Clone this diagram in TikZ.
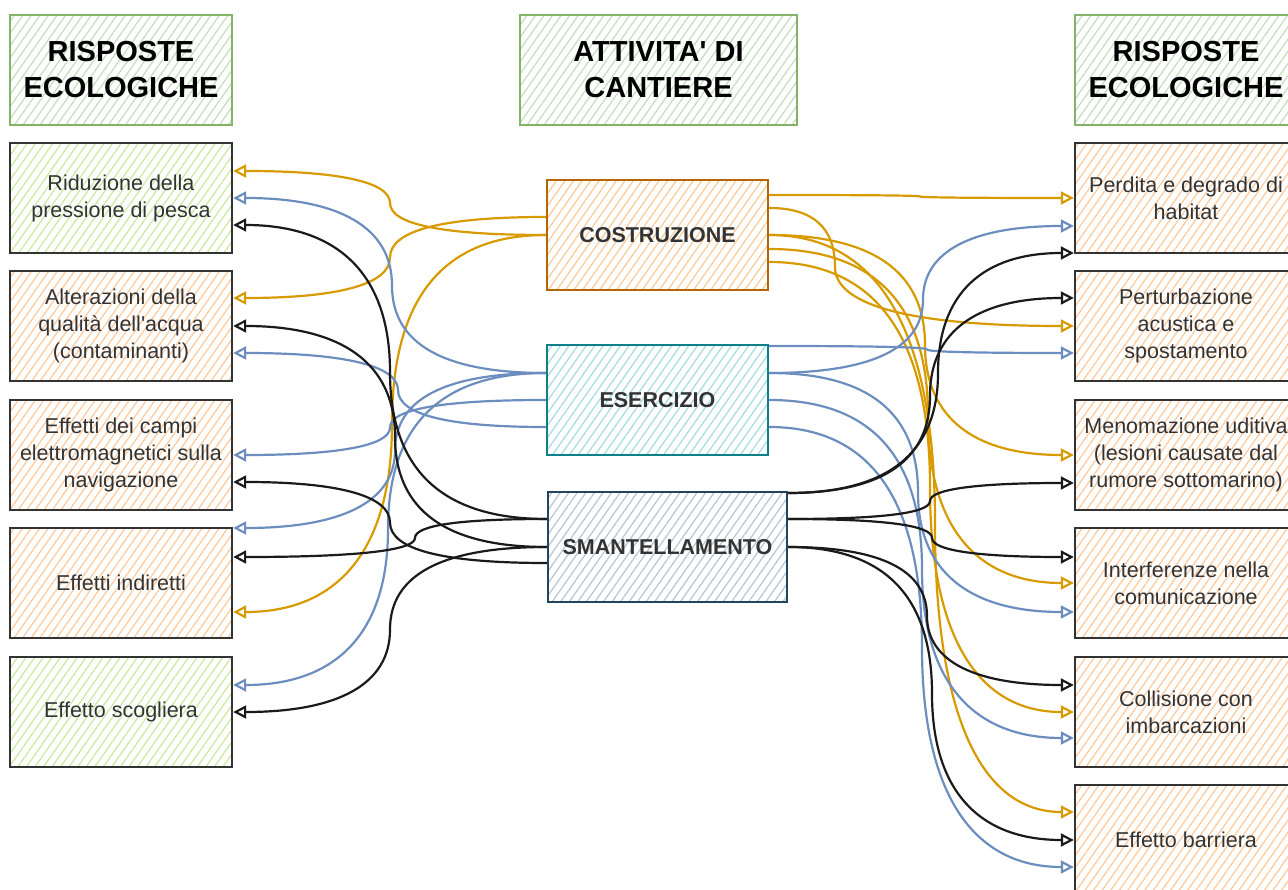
\documentclass[tikz,border=0pt]{standalone}
\usepackage{fontspec}
\setmainfont{Liberation Sans}
\usetikzlibrary{calc,arrows.meta,patterns.meta}

\definecolor{yel}{HTML}{D79B00}
\definecolor{blu}{HTML}{6C8EBF}
\definecolor{blk}{HTML}{1A1A1A}
\definecolor{txt}{HTML}{333333}
\definecolor{hgreenS}{HTML}{82B366}
\definecolor{hgreenF}{HTML}{C6DFC1}
\definecolor{limeF}{HTML}{CBEAA3}
\definecolor{orF}{HTML}{FFCB9E}
\definecolor{boxS}{HTML}{333333}
\definecolor{costS}{HTML}{B46504}
\definecolor{costF}{HTML}{F9CC9C}
\definecolor{eseS}{HTML}{0E8088}
\definecolor{eseF}{HTML}{A8DEE1}
\definecolor{smaS}{HTML}{23445D}
\definecolor{smaF}{HTML}{BAC8D3}

\tikzset{
  box/.style={rectangle, minimum width=222pt, minimum height=110pt, inner sep=0pt,
    align=center, font=\fontsize{21.5}{27}\selectfont, text=txt, line width=2.4pt, draw=boxS},
  hatch/.style={pattern={Lines[angle=55,distance=7pt,line width=1.3pt]}, pattern color=#1},
  greenbox/.style={box, hatch=limeF},
  orangebox/.style={box, hatch=orF},
  header/.style={box, draw=hgreenS, hatch=hgreenF, line width=2pt,
    font=\bfseries\fontsize{29}{36}\selectfont, text=black},
  phase/.style={box, minimum width=221pt, font=\bfseries\fontsize{21.5}{27}\selectfont, text=txt},
  link/.style={line width=2.2pt, -{Triangle[open,length=13pt,width=13pt]}},
  ly/.style={link, draw=yel},
  lb/.style={link, draw=blu},
  lk/.style={link, draw=blk},
}

% S-shaped curved orthogonal connector (two quadratic segments through a vertical at x = #3)
\newcommand\sconn[4]{%
  \draw[#1] let \p1=#2, \p2=#4 in
    (\p1) .. controls ({\x1+2/3*(#3pt-\x1)},\y1) and (#3pt,{(\y1+\y2)/2+(\y1-\y2)/3}) ..
    (#3pt,{(\y1+\y2)/2}) .. controls (#3pt,{(\y1+\y2)/2+(\y2-\y1)/3}) and ({\x2+2/3*(#3pt-\x2)},\y2) .. (\p2);
}

\begin{document}
\begin{tikzpicture}[x=1pt,y=-1pt]
\useasboundingbox (0,0) rectangle (1288,890);
\clip (0,0) rectangle (1288,890);

% headers
\node[header] (hdrL) at (121,70) {RISPOSTE\\ECOLOGICHE};
\node[header, minimum width=277pt] (hdrC) at (658.5,70) {ATTIVITA\textquotesingle{} DI\\CANTIERE};
\node[header] (hdrR) at (1186,70) {RISPOSTE\\ECOLOGICHE};

% left boxes
\node[greenbox]  (rid) at (121,198) {Riduzione della\\pressione di pesca};
\node[orangebox] (alt) at (121,326) {Alterazioni della\\qualità dell\textquotesingle acqua\\(contaminanti)};
\node[orangebox] (emf) at (121,455) {Effetti dei campi\\elettromagnetici sulla\\navigazione};
\node[orangebox] (ind) at (121,583) {Effetti indiretti};
\node[greenbox]  (sco) at (121,712) {Effetto scogliera};

% right boxes
\node[orangebox] (per)  at (1186,198) {Perdita e degrado di\\habitat};
\node[orangebox] (pert) at (1186,326) {Perturbazione\\acustica e\\spostamento};
\node[orangebox] (men)  at (1186,455) {Menomazione uditiva\\(lesioni causate dal\\rumore sottomarino)};
\node[orangebox] (int)  at (1186,583) {Interferenze nella\\comunicazione};
\node[orangebox] (col)  at (1186,712) {Collisione con\\imbarcazioni};
\node[orangebox] (bar)  at (1186,840) {Effetto barriera};

% phases
\node[phase, draw=costS, hatch=costF] (cost) at (657.5,235) {COSTRUZIONE};
\node[phase, draw=eseS, hatch=eseF] (ese) at (657.5,400) {ESERCIZIO};
\node[phase, draw=smaS, hatch=smaF, minimum width=239pt] (sma) at (667.5,547) {SMANTELLAMENTO};

% ---- left side connectors ----
\sconn{ly}{(cost.west)}{390}{([yshift=27pt]rid.east)}
\sconn{ly}{([yshift=18pt]cost.west)}{390}{([yshift=28pt]alt.east)}
\sconn{ly}{(cost.west)}{392}{([yshift=-29pt]ind.east)}

\sconn{lb}{([yshift=27pt]ese.west)}{392}{(rid.east)}
\sconn{lb}{([yshift=-27pt]ese.west)}{398}{([yshift=-27pt]alt.east)}
\sconn{lb}{(ese.west)}{390}{(emf.east)}
\sconn{lb}{([yshift=27pt]ese.west)}{395}{([yshift=55pt]ind.east)}
\sconn{lb}{([yshift=27pt]ese.west)}{388}{([yshift=27pt]sco.east)}

\sconn{lk}{([yshift=28pt]sma.west)}{390}{([yshift=-27pt]rid.east)}
\sconn{lk}{(sma.west)}{395}{(alt.east)}
\sconn{lk}{([yshift=-16pt]sma.west)}{390}{([yshift=-27pt]emf.east)}
\sconn{lk}{([yshift=28pt]sma.west)}{415}{([yshift=26pt]ind.east)}
\sconn{lk}{(sma.west)}{390}{(sco.east)}

% ---- right side connectors ----
\sconn{ly}{([yshift=40pt]cost.east)}{920}{(per.west)}
\sconn{ly}{([yshift=27pt]cost.east)}{835}{(pert.west)}
\sconn{ly}{(cost.east)}{925}{(men.west)}
\sconn{ly}{([yshift=-14pt]cost.east)}{928}{(int.west)}
\sconn{ly}{([yshift=-27pt]cost.east)}{930}{(col.west)}
\sconn{ly}{(cost.east)}{935}{([yshift=28pt]bar.west)}

\sconn{lb}{([yshift=27pt]ese.east)}{923}{([yshift=-28pt]per.west)}
\sconn{lb}{([yshift=54pt]ese.east)}{927}{([yshift=-27pt]pert.west)}
\sconn{lb}{([yshift=27pt]ese.east)}{918}{([yshift=-29pt]int.west)}
\sconn{lb}{(ese.east)}{922}{([yshift=-26pt]col.west)}
\sconn{lb}{([yshift=-27pt]ese.east)}{922}{([yshift=-27pt]bar.west)}

\sconn{lk}{([yshift=54pt]sma.east)}{938}{([yshift=-55pt]per.west)}
\sconn{lk}{([yshift=54pt]sma.east)}{930}{([yshift=28pt]pert.west)}
\sconn{lk}{([yshift=28pt]sma.east)}{930}{([yshift=-28pt]men.west)}
\sconn{lk}{([yshift=28pt]sma.east)}{932}{([yshift=26pt]int.west)}
\sconn{lk}{(sma.east)}{927}{([yshift=27pt]col.west)}
\sconn{lk}{(sma.east)}{932}{(bar.west)}
\end{tikzpicture}
\end{document}
